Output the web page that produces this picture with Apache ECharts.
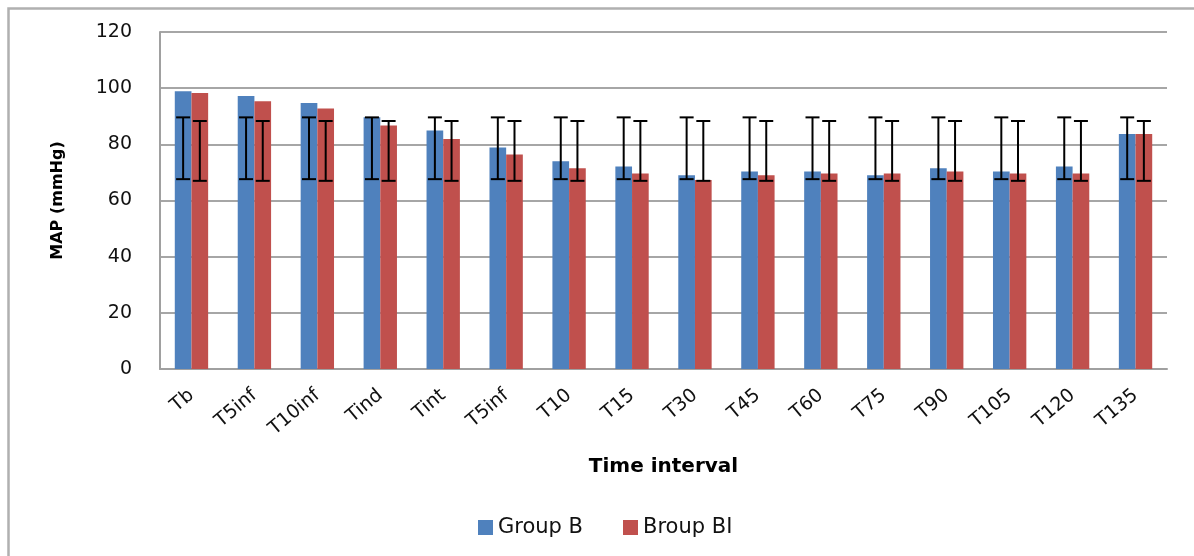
<!DOCTYPE html>
<html>
<head>
<meta charset="utf-8">
<script src="https://cdn.jsdelivr.net/npm/echarts@6/dist/echarts.min.js"></script>
<style>
html,body{margin:0;padding:0;background:#fff;}
#chart{width:1194px;height:556px;}
</style>
</head>
<body>
<div id="chart"></div>
<script>
const categories = ['Tb','T5inf','T10inf','Tind','Tint','T5inf','T10','T15','T30','T45','T60','T75','T90','T105','T120','T135'];
const groupB  = [98.9, 97.2, 94.7, 89.6, 84.9, 78.9, 74.0, 72.1, 69.0, 70.3, 70.3, 69.0, 71.5, 70.3, 72.1, 83.7];
const groupBI = [98.3, 95.3, 92.8, 86.7, 81.9, 76.4, 71.5, 69.6, 67.3, 69.0, 69.6, 69.6, 70.3, 69.6, 69.6, 83.7];
const errLowB   = [67.6, 67.6, 67.6, 67.6, 67.6, 67.6, 67.6, 67.6, 67.6, 67.6, 67.6, 67.6, 67.6, 67.6, 67.6, 67.6];
const errHighB  = [89.6, 89.6, 89.6, 89.6, 89.6, 89.6, 89.6, 89.6, 89.6, 89.6, 89.6, 89.6, 89.6, 89.6, 89.6, 89.6];
const errLowBI  = [67.0, 67.0, 67.0, 67.0, 67.0, 67.0, 67.0, 67.0, 67.0, 67.0, 67.0, 67.0, 67.0, 67.0, 67.0, 67.0];
const errHighBI = [88.3, 88.3, 88.3, 88.3, 88.3, 88.3, 88.3, 88.3, 88.3, 88.3, 88.3, 88.3, 88.3, 88.3, 88.3, 88.3];
const seriesNames = ['Group B', 'Broup BI'];
const yTicks = { min: 0, max: 120, interval: 20 };

const gapRatio = 0.47;
const chart = echarts.init(document.getElementById('chart'));

function errRender(side) {
  return function (params, api) {
    const idx = api.value(0);
    const pLow = api.coord([idx, api.value(1)]);
    const pHigh = api.coord([idx, api.value(2)]);
    const band = api.size([1, 0])[0];
    const barW = band * (1 - gapRatio) / 2;
    const x = pLow[0] + side * barW / 2;
    const cap = 7;
    const st = { stroke: '#000', lineWidth: 2 };
    return {
      type: 'group',
      children: [
        { type: 'line', shape: { x1: x, y1: pLow[1], x2: x, y2: pHigh[1] }, style: st },
        { type: 'line', shape: { x1: x - cap, y1: pLow[1], x2: x + cap, y2: pLow[1] }, style: st },
        { type: 'line', shape: { x1: x - cap, y1: pHigh[1], x2: x + cap, y2: pHigh[1] }, style: st }
      ]
    };
  };
}

const errDataB = categories.map((c, i) => [i, errLowB[i], errHighB[i]]);
const errDataBI = categories.map((c, i) => [i, errLowBI[i], errHighBI[i]]);

chart.setOption({
  animation: false,
  backgroundColor: '#fff',
  textStyle: { fontFamily: 'DejaVu Sans' },
  graphic: [
    { type: 'polyline', shape: { points: [[8.5, 560], [8.5, 8.5], [1200, 8.5]] }, style: { fill: null, stroke: '#b0b0b0', lineWidth: 2.5 }, silent: true, z: -1 }
  ],
  grid: { left: 160, right: 27, top: 32, bottom: 187 },
  legend: {
    data: seriesNames,
    left: 473, top: 512,
    itemWidth: 15, itemHeight: 15, itemGap: 40,
    icon: 'rect',
    textStyle: { fontSize: 21, color: '#111', fontFamily: 'DejaVu Sans', padding: [0, 0, 0, 0] }
  },
  xAxis: {
    type: 'category',
    data: categories,
    name: 'Time interval',
    nameLocation: 'middle',
    nameGap: 88,
    nameTextStyle: { fontSize: 20, fontWeight: 'bold', color: '#000', fontFamily: 'DejaVu Sans' },
    axisLine: { lineStyle: { color: '#a0a0a0', width: 2 } },
    axisTick: { show: false },
    axisLabel: { rotate: 40, fontSize: 19, color: '#111', margin: 24, interval: 0 },
    splitLine: { show: false }
  },
  yAxis: {
    type: 'value',
    min: yTicks.min, max: yTicks.max, interval: yTicks.interval,
    name: 'MAP (mmHg)',
    nameLocation: 'middle',
    nameGap: 94,
    nameRotate: 90,
    nameTextStyle: { fontSize: 16, fontWeight: 'bold', color: '#000', fontFamily: 'DejaVu Sans' },
    axisLine: { show: true, lineStyle: { color: '#a0a0a0', width: 2 } },
    axisTick: { show: false },
    axisLabel: { fontSize: 19, color: '#111', margin: 28 },
    splitLine: { lineStyle: { color: '#a6a6a6', width: 2 } }
  },
  series: [
    { name: seriesNames[0], type: 'bar', data: groupB, barGap: '0%', barCategoryGap: (gapRatio * 100) + '%', itemStyle: { color: '#4F81BD' } },
    { name: seriesNames[1], type: 'bar', data: groupBI, barGap: '0%', barCategoryGap: (gapRatio * 100) + '%', itemStyle: { color: '#C0504D' } },
    { name: 'errB', type: 'custom', data: errDataB, renderItem: errRender(-1), encode: { x: 0, y: [1, 2] }, z: 5, silent: true },
    { name: 'errBI', type: 'custom', data: errDataBI, renderItem: errRender(1), encode: { x: 0, y: [1, 2] }, z: 5, silent: true }
  ]
});
</script>
</body>
</html>
